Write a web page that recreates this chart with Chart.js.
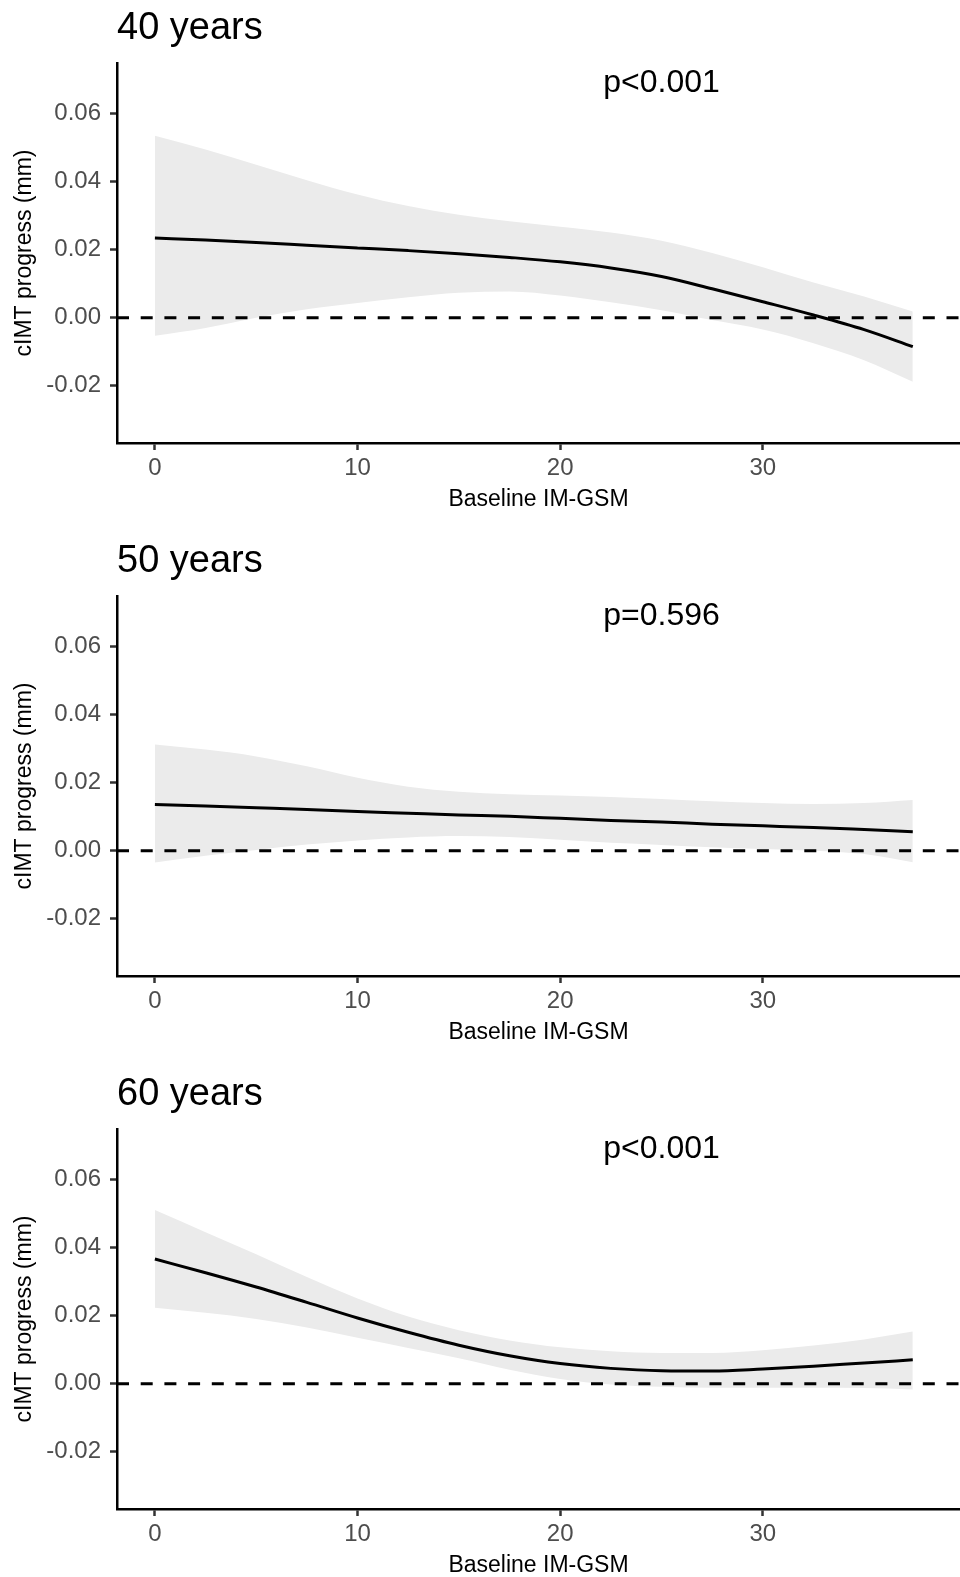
<!DOCTYPE html>
<html lang="en">
<head>
  <meta charset="UTF-8">
  <title>cIMT progress by baseline IM-GSM</title>
  <script src="https://cdn.jsdelivr.net/npm/chart.js@4.4.1/dist/chart.umd.min.js"></script>
  <style>
    html, body { margin: 0; padding: 0; background: #fff; }
    body { width: 960px; height: 1577px; position: relative; overflow: hidden; }
    .panel { position: absolute; left: 0; width: 960px; height: 511px; }
  </style>
</head>
<body>

<div class="panel" style="top:0px"><canvas id="chart40" width="960" height="511"></canvas></div>
<div class="panel" style="top:533px"><canvas id="chart50" width="960" height="511"></canvas></div>
<div class="panel" style="top:1066px"><canvas id="chart60" width="960" height="511"></canvas></div>

<script>
  // Baseline IM-GSM values where the fitted curves were read
  const xGrid = [0, 2.5, 5, 7.5, 10, 12.5, 15, 17.5, 20, 22.5, 25, 27.5, 30, 32.5, 35, 37.4];

  // 40 years
  const fit40   = [0.0234, 0.0228, 0.0221, 0.0213, 0.0205, 0.0197, 0.0188, 0.0177, 0.0164, 0.0146, 0.0121, 0.0085, 0.0047, 0.0008, -0.0035, -0.0085];
  const upper40 = [0.0534, 0.0494, 0.0449, 0.0404, 0.0362, 0.0328, 0.0302, 0.0283, 0.0267, 0.0250, 0.0226, 0.0190, 0.0148, 0.0103, 0.0062, 0.0018];
  const lower40 = [-0.0053, -0.0030, 0.0000, 0.0025, 0.0043, 0.0060, 0.0073, 0.0077, 0.0065, 0.0045, 0.0022, -0.0007, -0.0035, -0.0075, -0.0125, -0.0188];

  // 50 years
  const fit50   = [0.0136, 0.0131, 0.0126, 0.0121, 0.0115, 0.0110, 0.0105, 0.0101, 0.0095, 0.0089, 0.0084, 0.0078, 0.0073, 0.0068, 0.0062, 0.0056];
  const upper50 = [0.0312, 0.0297, 0.0277, 0.0248, 0.0214, 0.0188, 0.0173, 0.0166, 0.0162, 0.0158, 0.0152, 0.0145, 0.0140, 0.0137, 0.0140, 0.0149];
  const lower50 = [-0.0035, -0.0015, 0.0002, 0.0018, 0.0030, 0.0039, 0.0043, 0.0040, 0.0032, 0.0023, 0.0017, 0.0010, 0.0005, 0.0000, -0.0010, -0.0034];

  // 60 years
  const fit60   = [0.0366, 0.0326, 0.0284, 0.0239, 0.0193, 0.0151, 0.0113, 0.0082, 0.0059, 0.0045, 0.0038, 0.0037, 0.0043, 0.0051, 0.0061, 0.0070];
  const upper60 = [0.0510, 0.0445, 0.0380, 0.0313, 0.0250, 0.0197, 0.0157, 0.0127, 0.0107, 0.0095, 0.0090, 0.0090, 0.0098, 0.0112, 0.0130, 0.0153];
  const lower60 = [0.0223, 0.0208, 0.0190, 0.0165, 0.0135, 0.0105, 0.0075, 0.0041, 0.0014, -0.0002, -0.0009, -0.0012, -0.0012, -0.0012, -0.0013, -0.0017];

  const titles = ['40 years', '50 years', '60 years'];
  const pLabels = ['p<0.001', 'p=0.596', 'p<0.001'];
  const xTicks = [0, 10, 20, 30];
  const yTicks = [-0.02, 0, 0.02, 0.04, 0.06];
  const xRange = [-1.87, 39.73];
  const yRange = [-0.0368, 0.0748];
  const pPos = [25, 0.07];

  const FONT = "'Liberation Sans', Arial, sans-serif";

  const toPts = ys => xGrid.map((x, i) => ({ x: x, y: ys[i] }));

  const panelText = {
    id: 'panelText',
    afterDraw(chart, args, opts) {
      const ctx = chart.ctx;
      const area = chart.chartArea;
      ctx.save();
      ctx.fillStyle = '#000';
      ctx.textBaseline = 'alphabetic';
      ctx.font = '38px ' + FONT;
      ctx.textAlign = 'left';
      ctx.fillText(opts.title, area.left, 39);
      ctx.font = '32px ' + FONT;
      ctx.textAlign = 'center';
      const px = chart.scales.x.getPixelForValue(pPos[0]);
      const py = chart.scales.y.getPixelForValue(pPos[1]);
      ctx.fillText(opts.pLabel, px, py + 12.5);
      ctx.restore();
    }
  };

  function createPanel(id, title, pLabel, fit, upper, lower) {
    const ctx = document.getElementById(id).getContext('2d');
    new Chart(ctx, {
      type: 'line',
      data: {
        datasets: [
          {
            data: toPts(upper),
            borderWidth: 0,
            pointRadius: 0,
            fill: false,
            cubicInterpolationMode: 'monotone',
            order: 3
          },
          {
            data: toPts(lower),
            borderWidth: 0,
            pointRadius: 0,
            fill: '-1',
            backgroundColor: '#ebebeb',
            cubicInterpolationMode: 'monotone',
            order: 3
          },
          {
            data: toPts(fit),
            borderColor: '#000',
            borderWidth: 3,
            pointRadius: 0,
            fill: false,
            cubicInterpolationMode: 'monotone',
            order: 2
          },
          {
            data: [{ x: xRange[0], y: 0 }, { x: xRange[1], y: 0 }],
            borderColor: '#000',
            borderWidth: 3,
            borderDash: [12, 11.7],
            pointRadius: 0,
            fill: false,
            order: 1
          }
        ]
      },
      options: {
        responsive: false,
        animation: false,
        devicePixelRatio: 1,
        layout: { padding: { top: 63, right: 0, bottom: 0, left: 0 } },
        plugins: {
          legend: { display: false },
          tooltip: { enabled: false },
          panelText: { title: title, pLabel: pLabel }
        },
        scales: {
          x: {
            type: 'linear',
            min: xRange[0],
            max: xRange[1],
            afterBuildTicks: s => { s.ticks = xTicks.map(v => ({ value: v })); },
            afterFit: s => { s.height = 68; },
            border: { display: true, color: '#000', width: 2.5 },
            grid: { drawOnChartArea: false, drawTicks: true, tickLength: 7, tickColor: '#333', tickWidth: 2.5 },
            ticks: { color: '#4d4d4d', font: { family: FONT, size: 24 }, padding: 4, maxRotation: 0 },
            title: { display: true, text: 'Baseline IM-GSM', color: '#000', font: { family: FONT, size: 23, lineHeight: 1 }, padding: { top: 0, bottom: 0 } }
          },
          y: {
            type: 'linear',
            min: yRange[0],
            max: yRange[1],
            afterBuildTicks: s => { s.ticks = yTicks.map(v => ({ value: v })); },
            afterFit: s => { s.width = 117; },
            border: { display: true, color: '#000', width: 2.5 },
            grid: { drawOnChartArea: false, drawTicks: true, tickLength: 7, tickColor: '#333', tickWidth: 2.5 },
            ticks: { color: '#4d4d4d', font: { family: FONT, size: 24 }, padding: 9, callback: v => v.toFixed(2) },
            title: { display: true, text: 'cIMT progress (mm)', color: '#000', font: { family: FONT, size: 23 }, padding: { top: 11, bottom: 0 } }
          }
        }
      },
      plugins: [panelText]
    });
  }

  createPanel('chart40', titles[0], pLabels[0], fit40, upper40, lower40);
  createPanel('chart50', titles[1], pLabels[1], fit50, upper50, lower50);
  createPanel('chart60', titles[2], pLabels[2], fit60, upper60, lower60);
</script>
</body>
</html>
